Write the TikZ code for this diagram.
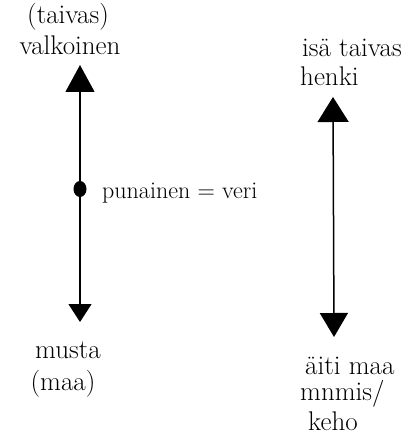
\documentclass[tikz,border=0pt]{standalone}
\usetikzlibrary{arrows.meta,shapes.geometric}

\begin{document}
\begin{tikzpicture}[x=1pt,y=-1pt,
  word/.style={inner sep=0pt,font=\fontsize{27}{30}\selectfont},
  axis/.style={line width=1.2pt},
  bead/.style={ellipse,fill=black,inner sep=0pt,minimum width=13pt,minimum height=16pt}]
  \useasboundingbox (0,0) rectangle (409,438);

  % left line
  \coordinate (lt) at (80,65);
  \coordinate (lb) at (80,322);
  \draw [axis,{Triangle[length=27pt,width=29pt]}-{Triangle[length=18pt,width=23pt]}] (lt) -- (lb);
  \node [bead] (veri) at (80,189) {};
  \node [word,anchor=west,font=\fontsize{24}{26}\selectfont] (punainen) at (102,193) {punainen = veri};

  \node [word] (taivas) at (68,17) {(taivas)};
  \node [word] (valkoinen) at (70,45) {valkoinen};
  \node [word] (musta) at (68,350) {musta};
  \node [word] (maa) at (63,384) {(maa)};

  % right line
  \coordinate (rt) at (333,97);
  \coordinate (rb) at (334,337);
  \draw [axis,line width=1.5pt,{Triangle[length=25pt,width=31pt]}-{Triangle[length=24pt,width=28pt]}] (rt) -- (rb);

  \node [word,anchor=west] (isa) at (302,48) {isä taivas};
  \node [word,anchor=west] (henki) at (300,76) {henki};
  \node [word,anchor=west] (aiti) at (305,366) {äiti maa};
  \node [word,anchor=west] (mnmis) at (300,394) {mnmis/};
  \node [word,anchor=west] (keho) at (308,421) {keho};
\end{tikzpicture}
\end{document}
